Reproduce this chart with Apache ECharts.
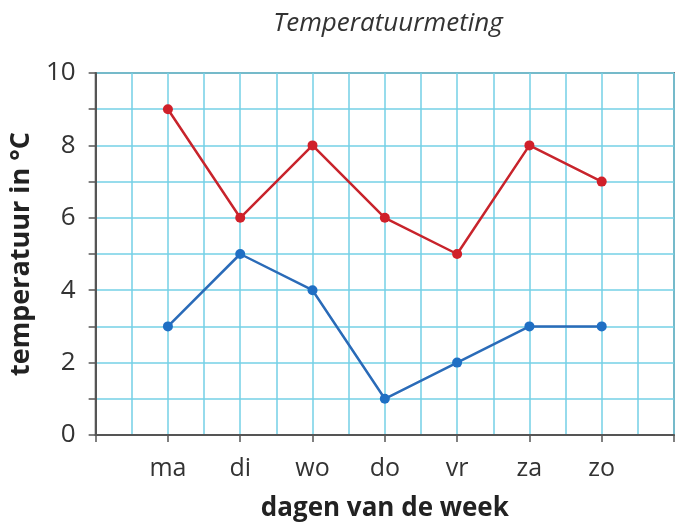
<!DOCTYPE html>
<html>
<head>
<meta charset="utf-8">
<script src="https://cdn.jsdelivr.net/npm/echarts@6/dist/echarts.min.js"></script>
<style>
  html, body { margin: 0; padding: 0; background: #fff; }
  #chart { width: 677px; height: 531px; }
</style>
</head>
<body>
<div id="chart"></div>
<script>
// dagen van de week (positie 1..7 op de x-as)
const days = ["ma", "di", "wo", "do", "vr", "za", "zo"];
const redTemps = [9, 6, 8, 6, 5, 8, 7];
const blueTemps = [3, 5, 4, 1, 2, 3, 3];

const toPoints = (vals) => vals.map((v, i) => [i + 1, v]);

const chart = echarts.init(document.getElementById("chart"));
const font = "'Open Sans', 'Noto Sans', sans-serif";
const gridColor = "#74d0e6";

chart.setOption({
  animation: false,
  title: {
    text: "Temperatuurmeting",
    left: 383,
    top: 6,
    textAlign: "center",
    textStyle: { fontFamily: font, fontStyle: "italic", fontWeight: "normal", fontSize: 26, color: "#333" },
  },
  grid: {
    left: 93, right: 3, top: 73, bottom: 96,
    show: true, borderColor: "#777", borderWidth: 2,
  },
  xAxis: {
    type: "value",
    min: 0, max: 8, interval: 1,
    name: "dagen van de week",
    nameLocation: "middle",
    nameGap: 61,
    nameTextStyle: { fontFamily: font, fontWeight: "bold", fontSize: 26, color: "#222" },
    axisLine: { show: true, lineStyle: { color: "#555", width: 2 } },
    axisTick: { show: true, length: 7, lineStyle: { color: "#555", width: 1.5 } },
    axisLabel: {
      margin: 21,
      fontFamily: font, fontSize: 25, color: "#333",
      formatter: (v) => days[v - 1] || "",
    },
    splitLine: { show: true, lineStyle: { color: gridColor, width: 1.5 } },
    minorTick: { show: false, splitNumber: 2 },
    minorSplitLine: { show: true, lineStyle: { color: gridColor, width: 1.5 } },
  },
  yAxis: {
    type: "value",
    min: 0, max: 10, interval: 1,
    name: "temperatuur in °C",
    nameLocation: "middle",
    nameGap: 46,
    nameTextStyle: { fontFamily: font, fontWeight: "bold", fontSize: 27, color: "#222" },
    axisLine: { show: true, lineStyle: { color: "#555", width: 2 } },
    axisTick: { show: true, length: 7, lineStyle: { color: "#555", width: 1.5 } },
    axisLabel: {
      margin: 20,
      fontFamily: font, fontSize: 26, color: "#333",
      formatter: (v) => (v % 2 === 0 ? String(v) : ""),
    },
    splitLine: { show: true, lineStyle: { color: gridColor, width: 1.5 } },
  },
  series: [
    {
      type: "line",
      data: toPoints(redTemps),
      symbol: "circle", symbolSize: 10,
      lineStyle: { color: "#c8242c", width: 2.5 },
      itemStyle: { color: "#d0202a" },
    },
    {
      type: "line",
      data: toPoints(blueTemps),
      symbol: "circle", symbolSize: 10,
      lineStyle: { color: "#2a6bb8", width: 2.5 },
      itemStyle: { color: "#1f6fc4" },
    },
  ],
});
</script>
</body>
</html>
